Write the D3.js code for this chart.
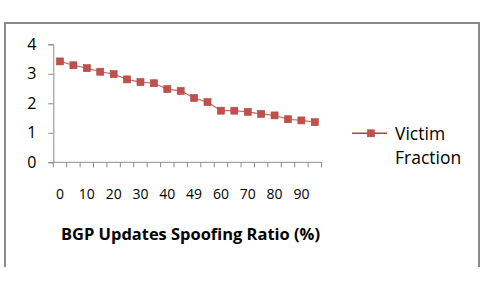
<!DOCTYPE html>
<html><head><meta charset="utf-8">
<script src="https://cdn.jsdelivr.net/npm/d3@7/dist/d3.min.js"></script>
<style>html,body{margin:0;padding:0;background:#fff;}svg{display:block;}</style>
</head><body>
<svg id="c" width="485" height="281"></svg>
<script>
const categories = ["0","5","10","15","20","25","30","35","40","45","49","55","60","65","70","75","80","85","90","95"];
const victimFraction = [3.42,3.29,3.19,3.07,2.99,2.81,2.72,2.68,2.48,2.42,2.18,2.04,1.75,1.75,1.71,1.64,1.59,1.46,1.42,1.36];
const yTicks = [0,1,2,3,4];
const xLabelShown = ["0","10","20","30","40","49","60","70","80","90"];
const seriesName = ["Victim","Fraction"];
const xTitle = "BGP Updates Spoofing Ratio (%)";

const svg = d3.select("#c");
const font = "'Open Sans', sans-serif";
const axisColor = "#8c8c8c";
const red = "#C0504D";

// outer frame (left, top, right)
svg.append("path")
  .attr("d", "M5,267 V23 H479 V267")
  .attr("fill","none").attr("stroke","#8a8a8a").attr("stroke-width",2);

const x = d3.scaleBand().domain(categories).range([53.3, 321.5]);
const y = d3.scaleLinear().domain([0,4]).range([162.3, 44.3]);

// y axis
const gy = svg.append("g").attr("transform","translate(53.3,0)")
  .call(d3.axisLeft(y).tickValues(yTicks).tickSize(5).tickPadding(12).tickFormat(d3.format("d")));
gy.select(".domain").attr("stroke",axisColor);
gy.selectAll(".tick line").attr("stroke",axisColor);
gy.selectAll("text").attr("font-family",font).attr("font-size","16px").attr("fill","#000");

// x axis
const gx = svg.append("g").attr("transform","translate(0,162.3)")
  .call(d3.axisBottom(x).tickSize(0).tickFormat(d => xLabelShown.includes(d) && categories.indexOf(d)%2===0 ? d : ""));
gx.select(".domain").attr("stroke",axisColor).attr("d", `M${x.range()[0]},0H${x.range()[1]}`);
gx.selectAll(".tick text").attr("font-family",font).attr("font-size","14px").attr("fill","#000").attr("dy",null).attr("y",37);
// category boundary ticks
const bounds = categories.map(c => x(c)).concat([x.range()[1]]);
gx.selectAll(".bt").data(bounds).enter().append("line")
  .attr("x1",d=>d).attr("x2",d=>d).attr("y1",0).attr("y2",5)
  .attr("stroke",axisColor);

// line
const line = d3.line().x((d,i)=>x(categories[i])+x.bandwidth()/2).y(d=>y(d));
svg.append("path").datum(victimFraction).attr("d",line)
  .attr("fill","none").attr("stroke","#cc6a68").attr("stroke-width",1.2);
svg.selectAll(".m").data(victimFraction).enter().append("rect")
  .attr("x",(d,i)=>x(categories[i])+x.bandwidth()/2-3.5)
  .attr("y",d=>y(d)-3.5).attr("width",7).attr("height",7)
  .attr("fill",red).attr("stroke","#b04442").attr("stroke-width",0.6);

// x title
svg.append("text").attr("x",61).attr("y",239.5).text(xTitle)
  .attr("font-family",font).attr("font-weight","bold").attr("font-size","16.5px")
  .attr("textLength",259).attr("lengthAdjust","spacingAndGlyphs");

// legend
svg.append("line").attr("x1",352).attr("x2",387).attr("y1",133.3).attr("y2",133.3)
  .attr("stroke","#b5403e").attr("stroke-width",1.5);
svg.append("rect").attr("x",367.5).attr("y",129.8).attr("width",7).attr("height",7)
  .attr("fill",red).attr("stroke","#b04442").attr("stroke-width",0.6);
svg.selectAll(".lt").data(seriesName).enter().append("text")
  .attr("x",395).attr("y",(d,i)=>140+i*23.5).text(d=>d)
  .attr("font-family",font).attr("font-size","17.5px").attr("fill","#000");
</script>
</body></html>
